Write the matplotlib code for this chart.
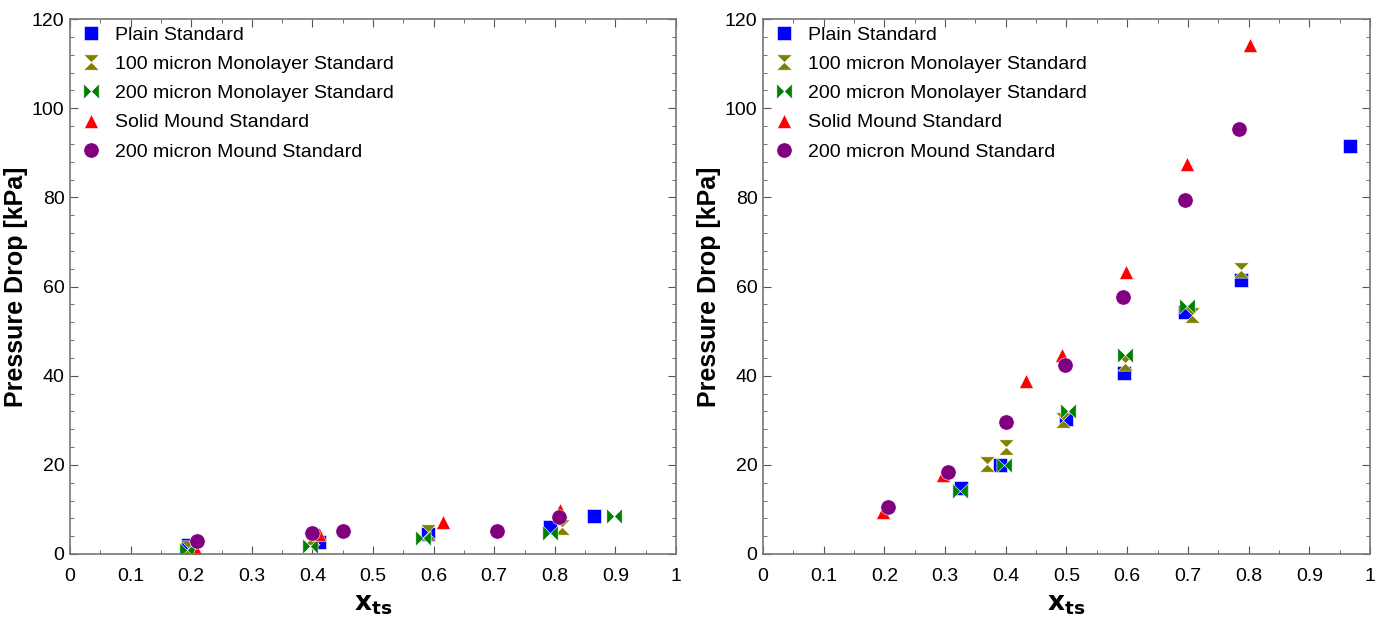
import numpy as np
import matplotlib.pyplot as plt
from matplotlib.path import Path
from matplotlib.ticker import MultipleLocator

plt.rcParams['font.family'] = ['Liberation Sans', 'DejaVu Sans']

labels = ["Plain Standard", "100 micron Monolayer Standard",
          "200 micron Monolayer Standard", "Solid Mound Standard",
          "200 micron Mound Standard"]
colors = ["#0000ff", "#808000", "#008000", "#ff0000", "#800080"]

# left panel
l_plain_x = [0.195, 0.41, 0.591, 0.792, 0.865]
l_plain_y = [2.0, 2.8, 4.5, 6.0, 8.6]
l_m100_x = [0.194, 0.40, 0.591, 0.812]
l_m100_y = [1.3, 3.8, 5.0, 6.0]
l_m200_x = [0.193, 0.396, 0.583, 0.792, 0.898]
l_m200_y = [1.0, 1.8, 3.5, 4.6, 8.6]
l_solid_x = [0.209, 0.411, 0.616, 0.808]
l_solid_y = [0.5, 4.5, 7.2, 9.8]
l_mound_x = [0.21, 0.40, 0.451, 0.704, 0.806]
l_mound_y = [3.0, 4.6, 5.2, 5.2, 8.4]

# right panel
r_plain_x = [0.327, 0.39, 0.50, 0.595, 0.696, 0.787, 0.967]
r_plain_y = [14.7, 20.0, 30.2, 40.7, 54.2, 61.5, 91.6]
r_m100_x = [0.369, 0.40, 0.495, 0.596, 0.707, 0.787]
r_m100_y = [20.2, 24.1, 30.0, 42.8, 53.6, 63.6]
r_m200_x = [0.325, 0.397, 0.503, 0.596, 0.699]
r_m200_y = [14.2, 20.0, 32.1, 44.6, 55.6]
r_solid_x = [0.198, 0.297, 0.433, 0.493, 0.598, 0.699, 0.803]
r_solid_y = [9.5, 17.7, 38.7, 44.6, 63.3, 87.4, 114.2]
r_mound_x = [0.206, 0.304, 0.40, 0.498, 0.593, 0.696, 0.785]
r_mound_y = [10.5, 18.5, 29.5, 42.4, 57.7, 79.4, 95.3]

hourglass = Path([(-1, 1), (1, 1), (-1, -1), (1, -1), (-1, 1)],
                 [Path.MOVETO, Path.LINETO, Path.LINETO, Path.LINETO, Path.CLOSEPOLY])
bowtie = Path([(-1, 1), (-1, -1), (1, 1), (1, -1), (-1, 1)],
              [Path.MOVETO, Path.LINETO, Path.LINETO, Path.LINETO, Path.CLOSEPOLY])
markers = ["s", hourglass, bowtie, "^", "o"]
sizes = [10, 11, 11, 10, 11]

fig = plt.figure(figsize=(13.82, 6.25), dpi=100)
ax1 = fig.add_axes([0.0507, 0.1136, 0.4385, 0.856])
ax2 = fig.add_axes([0.5521, 0.1136, 0.4392, 0.856])

left = [(l_plain_x, l_plain_y), (l_m100_x, l_m100_y), (l_m200_x, l_m200_y),
        (l_solid_x, l_solid_y), (l_mound_x, l_mound_y)]
right = [(r_plain_x, r_plain_y), (r_m100_x, r_m100_y), (r_m200_x, r_m200_y),
         (r_solid_x, r_solid_y), (r_mound_x, r_mound_y)]

for ax, data in [(ax1, left), (ax2, right)]:
    for (xs, ys), lab, c, m, ms in zip(data, labels, colors, markers, sizes):
        ax.plot(xs, ys, linestyle="none", marker=m, color=c, markersize=ms,
                markeredgecolor="white", markeredgewidth=0.4, label=lab)
    ax.set_xlim(0, 1)
    ax.set_ylim(0, 120)
    ax.xaxis.set_minor_locator(MultipleLocator(0.05))
    ax.yaxis.set_major_locator(MultipleLocator(20))
    ax.yaxis.set_minor_locator(MultipleLocator(4))
    ax.set_xticks(np.arange(0, 1.01, 0.1))
    ax.set_xticklabels(["0", "0.1", "0.2", "0.3", "0.4", "0.5", "0.6",
                        "0.7", "0.8", "0.9", "1"])
    ax.tick_params(which="both", direction="in", top=True, right=True,
                   colors="#555555", labelcolor="black", labelsize=14)
    ax.tick_params(axis="x", pad=10)
    ax.tick_params(axis="y", pad=4)
    ax.tick_params(which="major", length=6)
    ax.tick_params(which="minor", length=3)
    for s in ax.spines.values():
        s.set_color("#777777")
        s.set_linewidth(1.2)
    ax.set_xlabel(r"$\mathbf{x_{ts}}$", fontsize=19)
    ax.xaxis.set_label_coords(0.5, -0.072)
    ax.set_ylabel("Pressure Drop [kPa]", fontsize=18, fontweight="bold")
    ax.yaxis.set_label_coords(-0.07, 0.5)
    ax.legend(loc="upper left", frameon=False, fontsize=14, handletextpad=0.6,
              borderaxespad=0.1, labelspacing=0.6, handlelength=1.2,
              bbox_to_anchor=(0.0, 1.005))

fig.savefig("out.png", dpi=100)
